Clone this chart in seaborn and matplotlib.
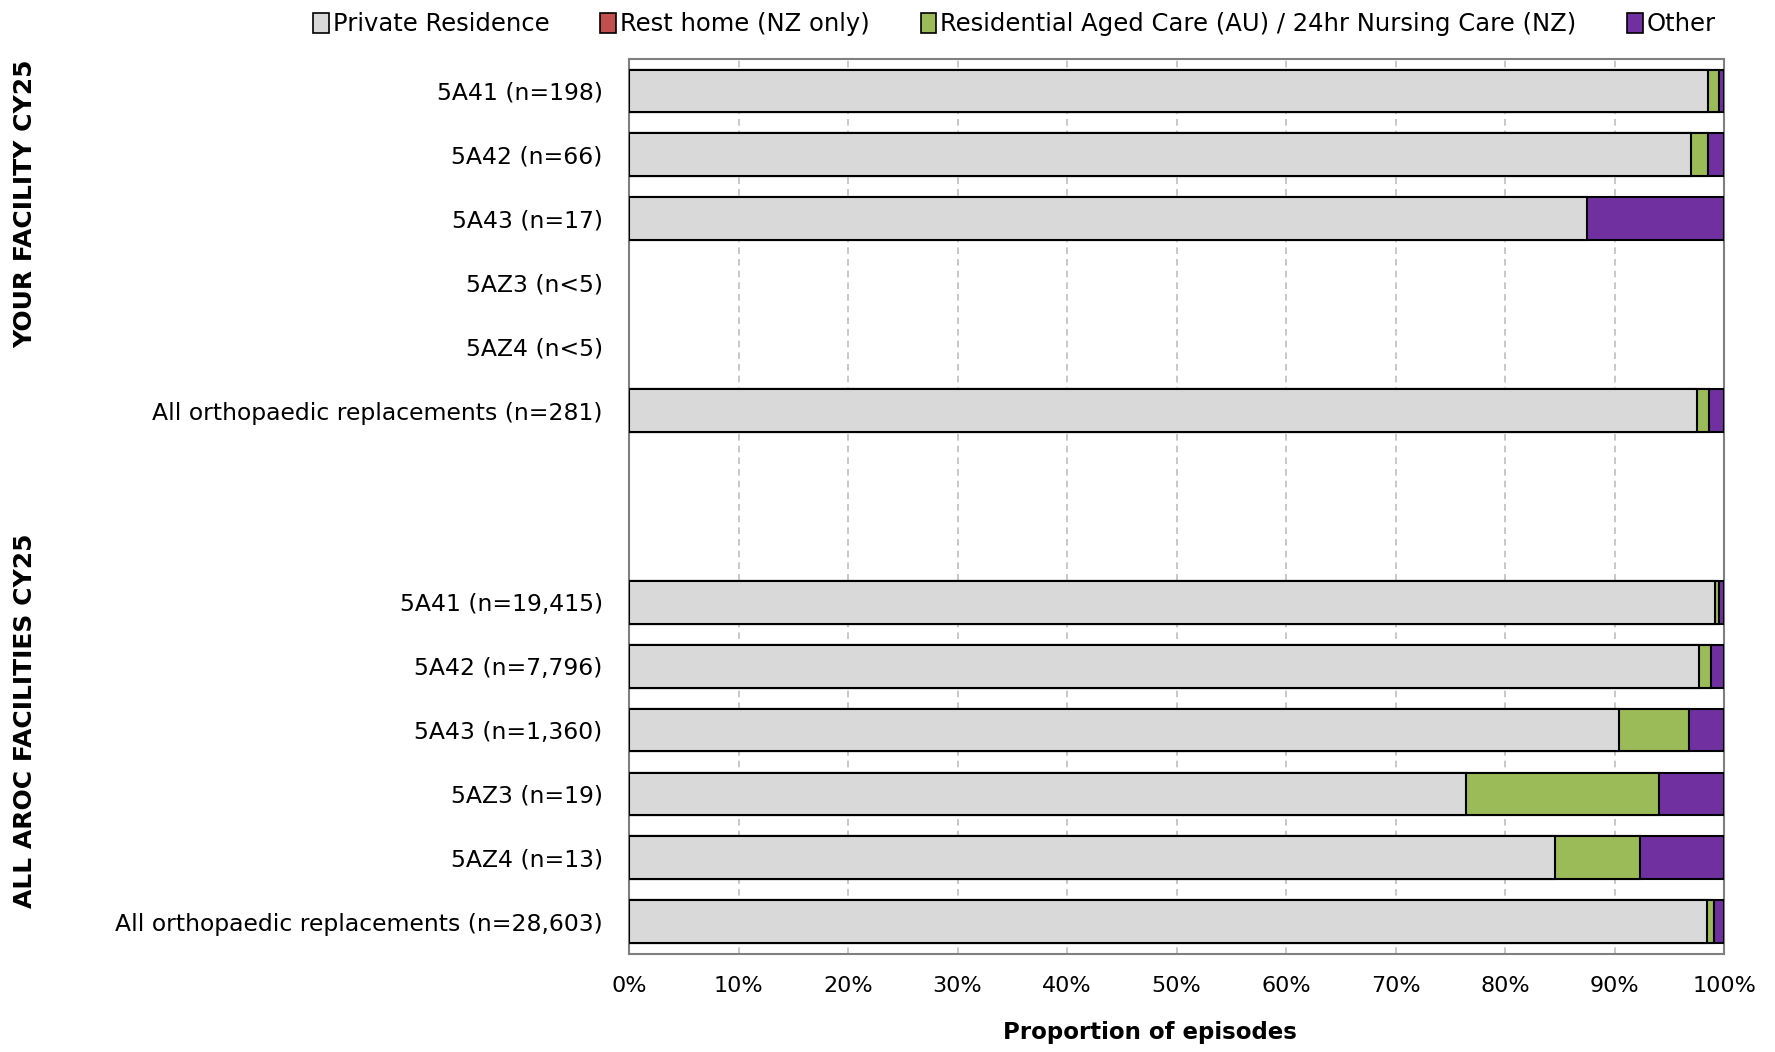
import pandas as pd
import matplotlib.pyplot as plt
import matplotlib.patches as mpatches
import seaborn as sns
import numpy as np

# Row labels (top to bottom); two blank rows separate the groups
rows = ["5A41 (n=198)", "5A42 (n=66)", "5A43 (n=17)", "5AZ3 (n<5)", "5AZ4 (n<5)",
        "All orthopaedic replacements (n=281)", " ", "  ",
        "5A41 (n=19,415)", "5A42 (n=7,796)", "5A43 (n=1,360)", "5AZ3 (n=19)",
        "5AZ4 (n=13)", "All orthopaedic replacements (n=28,603)"]

# Percent of episodes by discharge destination (NaN = not shown)
private_res = [98.5, 97.0, 87.5, np.nan, np.nan, 97.5, np.nan, np.nan,
               99.2, 97.7, 90.4, 76.4, 84.6, 98.4]
rest_home = [0.0, 0.0, 0.0, np.nan, np.nan, 0.0, np.nan, np.nan,
             0.0, 0.0, 0.0, 0.0, 0.0, 0.0]
aged_care = [1.0, 1.5, 0.0, np.nan, np.nan, 1.1, np.nan, np.nan,
             0.3, 1.1, 6.4, 17.7, 7.7, 0.7]
other = [0.5, 1.5, 12.5, np.nan, np.nan, 1.4, np.nan, np.nan,
         0.5, 1.2, 3.2, 5.9, 7.7, 0.9]

series_names = ["Private Residence", "Rest home (NZ only)",
                "Residential Aged Care (AU) / 24hr Nursing Care (NZ)", "Other"]
colors = ["#D9D9D9", "#C0504D", "#9BBB59", "#7030A0"]

group_labels = ["YOUR FACILITY CY25", "ALL AROC FACILITIES CY25"]
x_ticks = list(range(0, 101, 10))

sns.set_theme(style="white")
plt.rcParams["font.family"] = ["DejaVu Sans"]
plt.rcParams["text.color"] = "black"
plt.rcParams["xtick.color"] = "black"
plt.rcParams["ytick.color"] = "black"
plt.rcParams["axes.labelcolor"] = "black"

df = pd.DataFrame({"row": rows, series_names[0]: private_res, series_names[1]: rest_home,
                   series_names[2]: aged_care, series_names[3]: other})
cum = df[series_names].cumsum(axis=1)
cum["row"] = df["row"]

fig = plt.figure(figsize=(17.75, 10.52), dpi=100)
ax = fig.add_axes([0.3544, 0.0934, 0.6169, 0.8505])

# draw cumulative layers from the right-most segment backwards
for name, col in reversed(list(zip(series_names, colors))):
    seg = df[name].fillna(0) > 0
    data = cum[seg | (name == series_names[0])].dropna(subset=[name])
    if data.empty:
        continue
    sns.barplot(data=data, x=name, y="row", order=rows, orient="h", color=col,
                width=0.67, edgecolor="black", linewidth=1.5, saturation=1, ax=ax, zorder=3)

ax.set_xlim(0, 100)
ax.set_ylim(len(rows) - 0.5, -0.5)
ax.set_xticks(x_ticks)
ax.set_xticklabels([f"{t}%" for t in x_ticks], fontsize=16)
ax.tick_params(axis="y", labelsize=16.9, length=0, pad=19)
ax.tick_params(axis="x", length=0, pad=16)
ax.set_ylabel("")
ax.set_xlabel("Proportion of episodes", fontsize=16.5, fontweight="bold", labelpad=18, x=0.476)
ax.xaxis.grid(True, linestyle=(0, (4, 3)), color="#BFBFBF", linewidth=1.2, zorder=0)
ax.yaxis.grid(False)
ax.set_axisbelow(True)
for s in ax.spines.values():
    s.set_color("#7F7F7F")
    s.set_linewidth(1.5)

fig.text(0.014, 0.806, group_labels[0], rotation=90, ha="center", va="center",
         fontsize=18, fontweight="bold")
fig.text(0.014, 0.3146, group_labels[1], rotation=90, ha="center", va="center",
         fontsize=18, fontweight="bold")

handles = [mpatches.Patch(facecolor=c, edgecolor="black", linewidth=1.2, label=n)
           for n, c in zip(series_names, colors)]
fig.legend(handles=handles, loc="upper right", bbox_to_anchor=(0.979, 1.009), ncol=4,
           frameon=False, fontsize=17.5, handlelength=0.65, handleheight=0.85,
           handletextpad=0.15, columnspacing=2.1)

fig.savefig("out.png", dpi=100)
